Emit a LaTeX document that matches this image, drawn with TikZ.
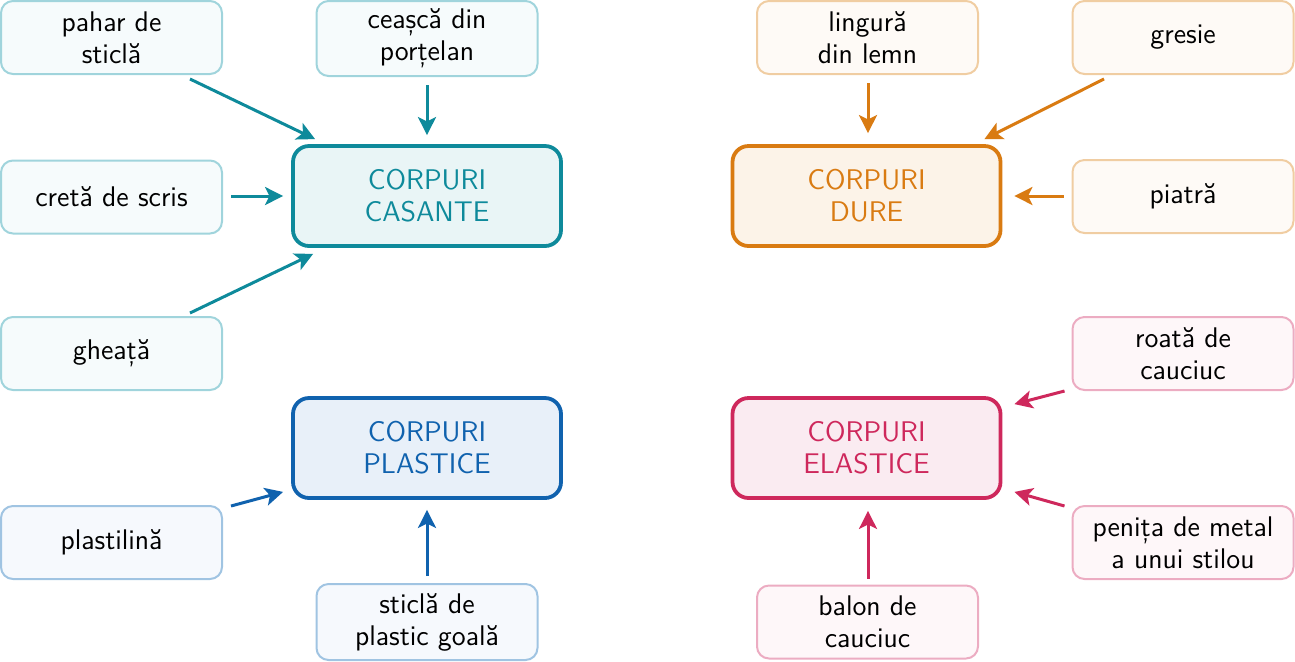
\documentclass[tikz,border=0pt]{standalone}
\usepackage{fontspec}
\usetikzlibrary{arrows.meta,calc}
\definecolor{tealM}{RGB}{14,138,155}
\definecolor{tealF}{RGB}{233,245,246}
\definecolor{tealB}{RGB}{160,212,220}
\definecolor{tealS}{RGB}{246,251,252}
\definecolor{oraM}{RGB}{217,123,18}
\definecolor{oraF}{RGB}{252,243,232}
\definecolor{oraB}{RGB}{240,205,162}
\definecolor{oraS}{RGB}{254,250,246}
\definecolor{bluM}{RGB}{16,98,174}
\definecolor{bluF}{RGB}{232,240,249}
\definecolor{bluB}{RGB}{160,196,226}
\definecolor{bluS}{RGB}{246,249,253}
\definecolor{pinM}{RGB}{206,40,92}
\definecolor{pinF}{RGB}{250,235,241}
\definecolor{pinB}{RGB}{236,172,194}
\definecolor{pinS}{RGB}{254,247,249}
\tikzset{
  x=0.5pt, y=-0.5pt,
  txt/.style={font=\sffamily\fontsize{14.2}{16}\selectfont, align=center},
  small/.style={txt, draw=#1B, fill=#1S, line width=1pt, rounded corners=6pt,
    minimum width=110.5pt, minimum height=36.5pt, inner sep=2pt, text=black},
  big/.style={txt, draw=#1M, fill=#1F, line width=1.9pt, rounded corners=8pt,
    minimum width=134pt, minimum height=50pt, inner sep=2pt, text=#1M},
  arr/.style={draw=#1M, line width=1.5pt, -{Stealth[length=9pt,width=9pt,inset=2.2pt]}},
}
\begin{document}
\begin{tikzpicture}
\useasboundingbox (0,0) rectangle (1295,661);
% big boxes
\node[big=teal] (casante) at (427,196) {CORPURI\\CASANTE};
\node[big=blu] (plastice) at (427,448) {CORPURI\\PLASTICE};
\node[big=ora] (dure) at (866.5,196) {CORPURI\\DURE};
\node[big=pin] (elastice) at (866.5,448) {CORPURI\\ELASTICE};
% teal small
\node[small=teal] (pahar) at (111.5,37.5) {pahar de\\sticlă};
\node[small=teal, minimum height=37.5pt] (ceasca) at (427,38.5) {ceașcă din\\porțelan};
\node[small=teal] (creta) at (111.5,197) {cretă de scris};
\node[small=teal] (gheata) at (111.5,353.5) {gheață};
% blue small
\node[small=blu] (plastilina) at (111.5,542.5) {plastilină};
\node[small=blu, minimum height=38pt] (sticla) at (427,622) {sticlă de\\plastic goală};
% orange small
\node[small=ora] (lingura) at (867.5,37.5) {lingură\\din lemn};
\node[small=ora] (gresie) at (1183,37.5) {gresie};
\node[small=ora] (piatra) at (1183,196.5) {piatră};
% pink small
\node[small=pin] (roata) at (1183,353.5) {roată de\\cauciuc};
\node[small=pin] (penita) at (1183,542.5) {penița de metal\\a unui stilou};
\node[small=pin] (balon) at (867.5,622) {balon de\\cauciuc};
% arrows teal
\draw[arr=teal] ($(pahar.south)+(78.5,4)$) -- ($(casante.north west)+(24,-5)$);
\draw[arr=teal] ($(ceasca.south)+(0,8)$) -- ($(casante.north)+(0,-9)$);
\draw[arr=teal] ($(creta.east)+(8,-1)$) -- ($(casante.west)+(-8,0)$);
\draw[arr=teal] ($(gheata.north)+(78.5,-3)$) -- ($(casante.south west)+(22,6)$);
% arrows blue
\draw[arr=blu] ($(plastilina.north east)+(8,1)$) -- ($(plastice.south west)+(-8,-8)$);
\draw[arr=blu] ($(sticla.north)+(0,-7)$) -- ($(plastice.south)+(0,10)$);
% arrows orange
\draw[arr=ora] ($(lingura.south)+(0.5,8)$) -- ($(dure.north)+(1.5,-11)$);
\draw[arr=ora] ($(gresie.south)+(-79,4)$) -- ($(dure.north east)+(-18,-5)$);
\draw[arr=ora] ($(piatra.west)+(-8,-0.5)$) -- ($(dure.east)+(12,0)$);
% arrows pink
\draw[arr=pin] ($(roata.south west)+(-7,0)$) -- ($(elastice.north east)+(12,8)$);
\draw[arr=pin] ($(penita.north west)+(-7,1)$) -- ($(elastice.south east)+(12,-8)$);
\draw[arr=pin] ($(balon.north)+(0.5,-6)$) -- ($(elastice.south)+(1.5,11)$);
\end{tikzpicture}
\end{document}
